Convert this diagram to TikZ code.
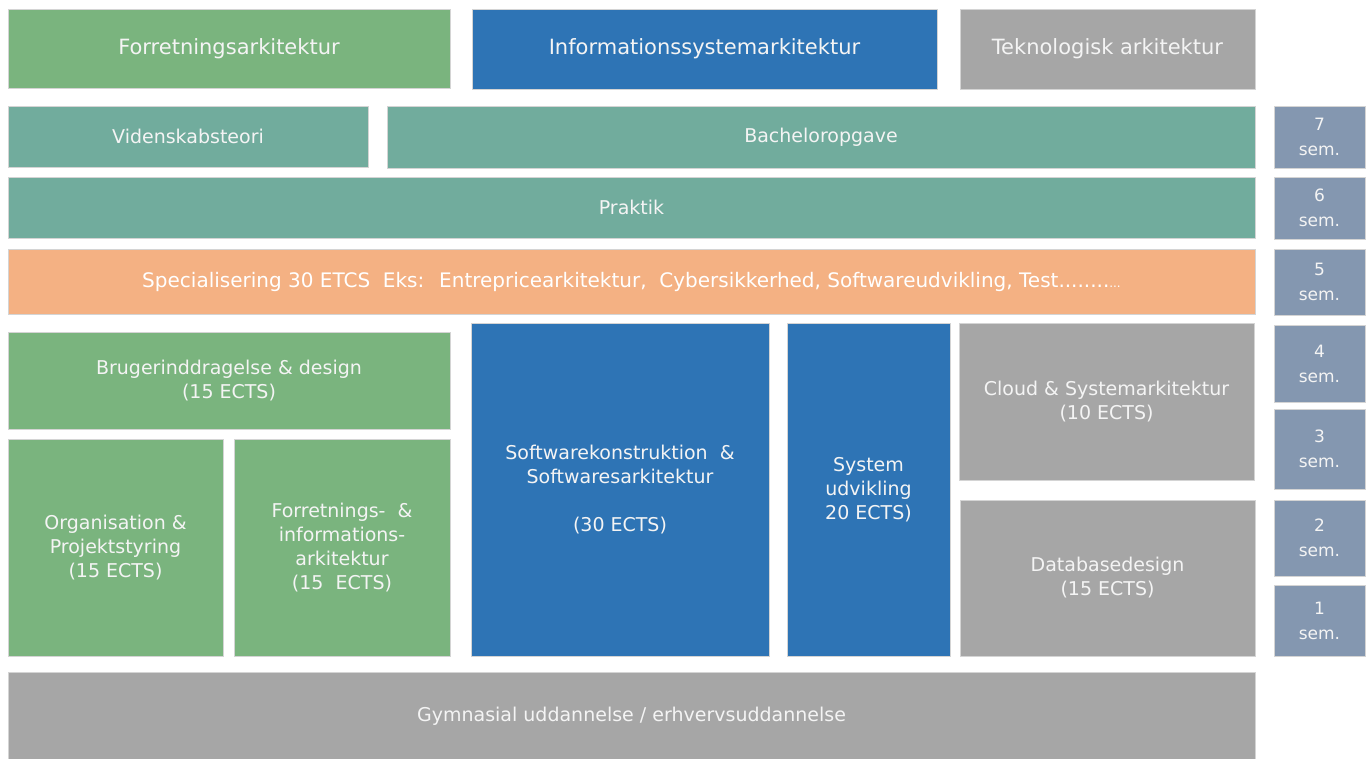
\documentclass[tikz,border=0pt]{standalone}
\usepackage{fontspec}
\setmainfont{DejaVu Sans}
\definecolor{fagGroen}{HTML}{7AB47E}
\definecolor{fagTeal}{HTML}{71AC9D}
\definecolor{fagBlaa}{HTML}{2E74B5}
\definecolor{fagGraa}{HTML}{A6A6A6}
\definecolor{fagOrange}{HTML}{F4B183}
\definecolor{semBlaa}{HTML}{8497B0}
\definecolor{kant}{HTML}{D4D4D4}
\definecolor{tekst}{HTML}{F4F4F4}
\tikzset{
	blok/.style={draw=kant, line width=1pt, inner sep=0pt, align=center, text=tekst,
		font=\fontsize{19}{24}\selectfont},
	hoved/.style={blok, font=\fontsize{21}{24}\selectfont},
	sem/.style={blok, fill=semBlaa, minimum width=91pt, font=\fontsize{17}{25}\selectfont}
}
\begin{document}
\begin{tikzpicture}[x=1pt, y=-1pt]
		\useasboundingbox (0, 0) rectangle (1368, 758);
		% top row: the three architectures
		\node[hoved, fill=fagGroen, minimum width=442pt, minimum height=79pt] (forrArk) at (229, 48.5) {Forretningsarkitektur};
		\node[hoved, fill=fagBlaa, minimum width=465pt, minimum height=80pt] (infoArk) at (704.5, 49) {Informationssystemarkitektur};
		\node[hoved, fill=fagGraa, minimum width=295pt, minimum height=80pt] (tekArk) at (1107.5, 49) {Teknologisk arkitektur};
		% 7. semester
		\node[blok, fill=fagTeal, minimum width=360pt, minimum height=61pt] (viden) at (188, 136.5) {Videnskabsteori};
		\node[blok, fill=fagTeal, minimum width=868pt, minimum height=62pt] (bachelor) at (821, 137) {Bacheloropgave};
		% 6. semester
		\node[blok, fill=fagTeal, minimum width=1247pt, minimum height=61pt] (praktik) at (631.5, 207.5) {Praktik};
		% 5. semester
		\node[blok, fill=fagOrange, text=white, font=\fontsize{20}{24}\selectfont, minimum width=1247pt, minimum height=65pt] (spec) at (631.5, 281.5)
			{Specialisering 30 ETCS~ Eks:~ Entrepricearkitektur,~ Cybersikkerhed, Softwareudvikling, Test........{\fontsize{12}{12}\selectfont...}};
		% 1.-4. semester
		\node[blok, fill=fagGroen, minimum width=442pt, minimum height=97pt] (bruger) at (229, 380.5) {Brugerinddragelse \& design\\(15 ECTS)};
		\node[blok, fill=fagGroen, minimum width=215pt, minimum height=217pt] (org) at (115.5, 547.5) {Organisation \&\\Projektstyring\\(15 ECTS)};
		\node[blok, fill=fagGroen, minimum width=216pt, minimum height=217pt] (forrInfo) at (342, 547.5) {Forretnings-~ \&\\informations-\\arkitektur\\(15~ ECTS)};
		\node[blok, fill=fagBlaa, minimum width=298pt, minimum height=333pt] (softw) at (620, 489.5) {Softwarekonstruktion~ \&\\Softwaresarkitektur\\[24pt](30 ECTS)};
		\node[blok, fill=fagBlaa, minimum width=163pt, minimum height=333pt] (sysUdv) at (868.5, 489.5) {System\\udvikling\\20 ECTS)};
		\node[blok, fill=fagGraa, minimum width=295pt, minimum height=157pt] (cloud) at (1106.5, 401.5) {Cloud \& Systemarkitektur\\(10 ECTS)};
		\node[blok, fill=fagGraa, minimum width=295pt, minimum height=156pt] (db) at (1107.5, 578) {Databasedesign\\(15 ECTS)};
		% adgangsgrundlag
		\node[blok, fill=fagGraa, minimum width=1247pt, minimum height=88pt] (gymn) at (631.5, 716) {Gymnasial uddannelse / erhvervsuddannelse};
		% semester column
		\node[sem, minimum height=62pt] (sem7) at (1319.5, 137) {7\\sem.};
		\node[sem, minimum height=62pt] (sem6) at (1319.5, 208) {6\\sem.};
		\node[sem, minimum height=66pt] (sem5) at (1319.5, 282) {5\\sem.};
		\node[sem, minimum height=77pt] (sem4) at (1319.5, 363.5) {4\\sem.};
		\node[sem, minimum height=80pt] (sem3) at (1319.5, 449) {3\\sem.};
		\node[sem, minimum height=76pt] (sem2) at (1319.5, 538) {2\\sem.};
		\node[sem, minimum height=71pt] (sem1) at (1319.5, 620.5) {1\\sem.};
	\end{tikzpicture}
\end{document}
